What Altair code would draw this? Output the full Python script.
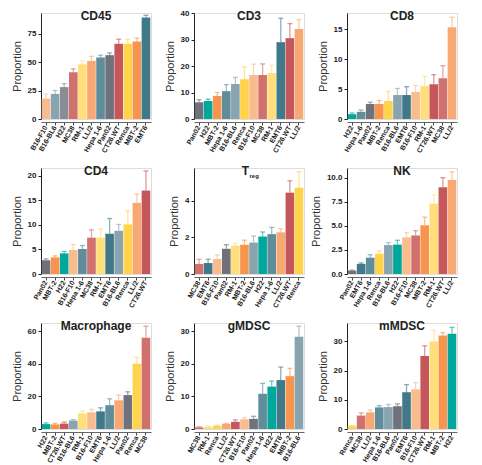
import altair as alt
import pandas as pd

# ---------------- data ----------------
cd45_lines = ["B16-F10", "B16-BL6", "H22", "MC38", "RM-1", "LL/2", "Hepa 1-6", "Pan02", "CT26.WT", "Renca", "MBT-2", "EMT6"]
cd45_mean = [18, 22, 28, 41, 48, 51, 54, 56, 66, 66, 68, 89]
cd45_err = [4, 3, 3, 3, 3, 4, 2, 2, 4, 4, 3, 2]

cd3_lines = ["Pan02", "H22", "MBT-2", "Hepa 1-6", "B16-BL6", "Renca", "B16-F10", "MC38", "RM-1", "EMT6", "CT26.WT", "LL/2"]
cd3_mean = [6.3, 6.8, 8.7, 10.5, 13.2, 15.0, 16.6, 16.6, 17.3, 29.0, 30.5, 34.0]
cd3_err = [1.0, 0.7, 1.3, 2.5, 2.5, 4.7, 4.1, 4.2, 3.0, 9.0, 5.5, 3.5]

cd8_lines = ["H22", "Hepa 1-6", "Pan02", "MBT-2", "Renca", "B16-BL6", "EMT6", "B16-F10", "RM-1", "CT26.WT", "MC38", "LL/2"]
cd8_mean = [0.8, 1.2, 2.5, 2.5, 3.0, 4.0, 4.0, 4.5, 5.5, 5.8, 6.8, 15.3]
cd8_err = [0.2, 0.3, 0.3, 0.6, 1.6, 1.1, 1.4, 1.1, 1.6, 1.6, 2.1, 1.7]

cd4_lines = ["Pan02", "MBT-2", "H22", "B16-F10", "Hepa 1-6", "MC38", "RM-1", "EMT6", "B16-BL6", "Renca", "LL/2", "CT26.WT"]
cd4_mean = [2.8, 3.4, 4.2, 4.9, 5.1, 7.4, 7.4, 8.2, 8.8, 10.1, 14.5, 17.0]
cd4_err = [0.3, 0.3, 0.4, 1.1, 0.7, 1.6, 1.8, 3.1, 1.3, 2.8, 1.8, 4.0]

treg_lines = ["MC38", "EMT6", "B16-F10", "Pan02", "RM-1", "MBT-2", "B16-BL6", "H22", "Hepa 1-6", "LL/2", "CT26.WT", "Renca"]
treg_mean = [0.55, 0.60, 0.82, 1.38, 1.55, 1.60, 1.72, 2.05, 2.18, 2.28, 4.45, 4.72]
treg_err = [0.25, 0.20, 0.23, 0.22, 0.13, 0.25, 0.36, 0.25, 0.37, 0.20, 0.65, 0.88]

nk_lines = ["Pan02", "EMT6", "Hepa 1-6", "Renca", "B16-BL6", "H22", "B16-F10", "MC38", "MBT-2", "RM-1", "CT26.WT", "LL/2"]
nk_mean = [0.35, 1.05, 1.70, 2.10, 3.00, 3.05, 3.80, 4.00, 5.05, 7.30, 9.00, 9.75]
nk_err = [0.05, 0.10, 0.30, 0.30, 0.25, 0.45, 0.50, 0.50, 0.85, 0.90, 1.00, 0.85]

mac_lines = ["H22", "MBT-2", "CT26.WT", "B16-BL6", "RM-1", "B16-F10", "EMT6", "Hepa 1-6", "LL/2", "Pan02", "Renca", "MC38"]
mac_mean = [3.0, 2.8, 3.3, 5.2, 9.6, 10.2, 10.8, 14.6, 17.6, 20.8, 40.0, 56.0]
mac_err = [0.7, 0.7, 1.0, 0.6, 1.4, 1.8, 2.2, 3.9, 3.2, 2.0, 4.0, 7.0]

gm_lines = ["MC38", "RM-1", "Renca", "LL/2", "CT26.WT", "B16-F10", "Pan02", "Hepa 1-6", "H22", "EMT6", "MBT-2", "B16-BL6"]
gm_mean = [0.5, 0.7, 1.0, 1.6, 2.2, 3.0, 3.1, 10.8, 13.0, 15.0, 16.2, 28.3]
gm_err = [0.2, 0.3, 0.2, 0.1, 0.6, 0.5, 0.8, 3.2, 1.7, 4.0, 2.4, 3.2]

mm_lines = ["Renca", "MC38", "LL/2", "Hepa 1-6", "B16-BL6", "Pan02", "EMT6", "B16-F10", "CT26.WT", "RM-1", "MBT-2", "H22"]
mm_mean = [1.0, 4.6, 5.7, 7.4, 7.5, 7.8, 12.6, 13.6, 25.0, 30.0, 32.0, 32.6]
mm_err = [0.2, 0.9, 0.8, 0.6, 0.9, 0.8, 2.6, 2.3, 3.5, 3.8, 1.0, 2.2]

# ---------------- styling ----------------
base_colors = {
    "Pan02": "#6F717B",
    "H22": "#00A79B",
    "MBT-2": "#F7954F",
    "Hepa 1-6": "#5F8D9C",
    "B16-BL6": "#87A4AF",
    "Renca": "#FFD34C",
    "B16-F10": "#F9BC8F",
    "MC38": "#D0716D",
    "RM-1": "#FFDE7B",
    "EMT6": "#407A8A",
    "CT26.WT": "#C5565A",
    "LL/2": "#F8A973",
}
cd45_colors = dict(base_colors, **{"H22": "#8A8C95"})

FONT = "Liberation Sans"
W, H = 110, 106


def panel(title, lines, means, errs, ymax, ticks, fmt, cmap, sub=None):
    df = pd.DataFrame({
        "line": lines,
        "mean": means,
        "upper": [m + e for m, e in zip(means, errs)],
    })
    base = alt.Chart(df)
    x = alt.X(
        "line:N", sort=lines, title=None,
        scale=alt.Scale(paddingInner=0.05, paddingOuter=0.08),
        axis=alt.Axis(labelAngle=-60, labelAlign="right", labelBaseline="middle",
                      labelFontSize=7, labelFontWeight="bold", labelColor="#222",
                      labelPadding=1, tickSize=3, tickColor="#444", domainColor="#666",
                      offset=3, labelOverlap=False),
    )
    color = alt.Color("line:N", scale=alt.Scale(domain=lines, range=[cmap[l] for l in lines]), legend=None)
    yscale = alt.Scale(domain=[0, ymax], nice=False)
    yaxis = alt.Axis(values=ticks, format=fmt, title="Proportion", grid=False,
                     labelFontSize=8, labelFontWeight="bold", labelColor="#222",
                     tickSize=3, tickColor="#222", domainColor="#222",
                     titleFontSize=11, titleFontWeight="normal", titleColor="#333",
                     titlePadding=5)
    bars = base.mark_bar().encode(x=x, y=alt.Y("mean:Q", scale=yscale, axis=yaxis), color=color)
    rule = base.mark_rule(strokeWidth=1.3, opacity=0.6).encode(
        x=x, y=alt.Y("mean:Q", scale=yscale, axis=yaxis), y2="upper:Q", color=color)
    cap = base.mark_tick(size=5, thickness=1.3, opacity=0.6).encode(
        x=x, y=alt.Y("upper:Q", scale=yscale, axis=yaxis), color=color)
    tdf = pd.DataFrame({"t": [title]})
    if sub is None:
        ttl = alt.Chart(tdf).mark_text(font=FONT, fontSize=12, fontWeight="bold", color="#222",
                                       baseline="middle", align="center").encode(
            x=alt.value(W / 2), y=alt.value(3), text="t:N")
        layers = [bars, rule, cap, ttl]
    else:
        ttl = alt.Chart(tdf).mark_text(font=FONT, fontSize=12, fontWeight="bold", color="#222",
                                       baseline="middle", align="right").encode(
            x=alt.value(W / 2), y=alt.value(3), text="t:N")
        sdf = pd.DataFrame({"s": [sub]})
        st = alt.Chart(sdf).mark_text(font=FONT, fontSize=6, fontWeight="bold", color="#222",
                                      baseline="middle", align="left").encode(
            x=alt.value(W / 2 + 0.5), y=alt.value(8), text="s:N")
        layers = [bars, rule, cap, ttl, st]
    return alt.layer(*layers).properties(width=W, height=H)


charts = [
    panel("CD45", cd45_lines, cd45_mean, cd45_err, 93, [0, 25, 50, 75], "d", cd45_colors),
    panel("CD3", cd3_lines, cd3_mean, cd3_err, 40, [0, 10, 20, 30, 40], "d", base_colors),
    panel("CD8", cd8_lines, cd8_mean, cd8_err, 17.7, [0, 5, 10, 15], "d", base_colors),
    panel("CD4", cd4_lines, cd4_mean, cd4_err, 21.6, [0, 5, 10, 15, 20], "d", base_colors),
    panel("T", treg_lines, treg_mean, treg_err, 5.8, [0, 2, 4], "d", base_colors, sub="reg"),
    panel("NK", nk_lines, nk_mean, nk_err, 11.0, [0, 2.5, 5, 7.5, 10], ".1f", base_colors),
    panel("Macrophage", mac_lines, mac_mean, mac_err, 65, [0, 20, 40, 60], "d", base_colors),
    panel("gMDSC", gm_lines, gm_mean, gm_err, 32.5, [0, 10, 20, 30], "d", base_colors),
    panel("mMDSC", mm_lines, mm_mean, mm_err, 36.3, [0, 10, 20, 30], "d", base_colors),
]

chart = alt.concat(*charts, columns=3, spacing={"row": 49, "column": 43}, bounds="flush").resolve_scale(
    color="independent"
).properties(
    padding={"left": 2, "top": 0, "right": 2, "bottom": 0}
).configure_view(stroke=None).configure(font=FONT)

chart.save("out.html", embed_options={"renderer": "svg", "actions": False})
